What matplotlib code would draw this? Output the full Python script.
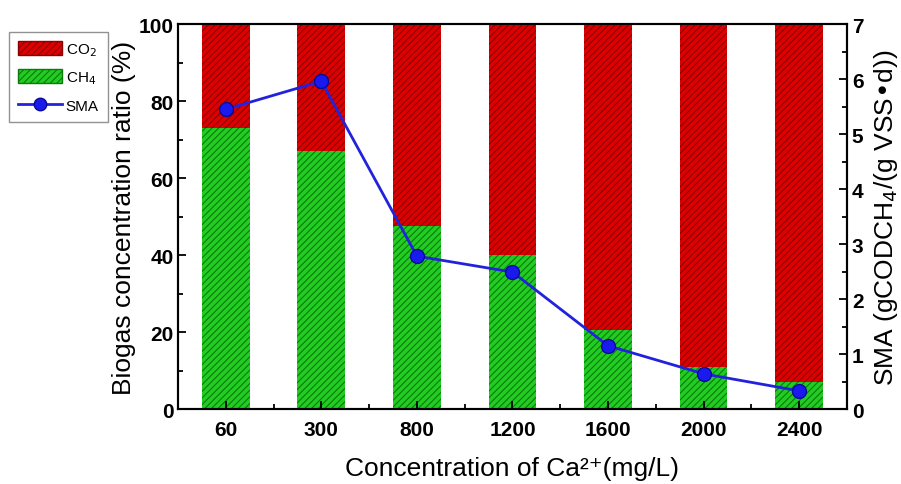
import numpy as np
import matplotlib.pyplot as plt
from matplotlib.patches import Patch
from matplotlib.lines import Line2D
from matplotlib.ticker import MultipleLocator

plt.rcParams['font.family'] = ['Liberation Sans', 'DejaVu Sans']
plt.rcParams['hatch.linewidth'] = 0.8

conc = ["60", "300", "800", "1200", "1600", "2000", "2400"]
ch4 = [73, 67, 47.5, 40, 20.5, 11, 7]
co2 = [100 - v for v in ch4]
sma = [5.45, 5.96, 2.78, 2.49, 1.15, 0.64, 0.33]

x = np.arange(len(conc))

fig = plt.figure(figsize=(9.01, 4.85), dpi=100)
ax = fig.add_axes([0.1976, 0.1546, 0.7424, 0.7938])

ax.bar(x, ch4, width=0.5, color="#22cc22", edgecolor="#0a7a0a", hatch="/////", linewidth=0)
ax.bar(x, co2, width=0.5, bottom=ch4, color="#dd0000", edgecolor="#8a0000", hatch="/////", linewidth=0)

ax.set_xlim(-0.5, 6.5)
ax.set_ylim(0, 100)
ax.set_xticks(x)
ax.set_xticklabels(conc, fontweight="bold", fontsize=15)
ax.xaxis.set_minor_locator(MultipleLocator(0.5))
ax.yaxis.set_major_locator(MultipleLocator(20))
ax.yaxis.set_minor_locator(MultipleLocator(10))
for lbl in ax.get_yticklabels():
    lbl.set_fontweight("bold")
    lbl.set_fontsize(15)
ax.tick_params(which="both", direction="in", top=False, right=False, width=1.3)
ax.tick_params(which="major", length=6)
ax.tick_params(which="minor", length=3.5)
ax.tick_params(axis="x", pad=8)
ax.tick_params(axis="y", pad=3)
for s in ax.spines.values():
    s.set_linewidth(1.5)
ax.set_ylabel("Biogas concentration ratio (%)", fontsize=19, labelpad=2)
ax.set_xlabel("Concentration of Ca\u00b2\u207a(mg/L)", fontsize=19, labelpad=12)

ax2 = ax.twinx()
ax2.plot(x, sma, color="#2222dd", lw=2, marker="o", ms=10,
         markerfacecolor="#1a1aee", markeredgecolor="#0a0a99")
ax2.set_ylim(0, 7)
ax2.yaxis.set_major_locator(MultipleLocator(1))
ax2.yaxis.set_minor_locator(MultipleLocator(0.5))
for lbl in ax2.get_yticklabels():
    lbl.set_fontweight("bold")
    lbl.set_fontsize(15)
ax2.tick_params(which="both", direction="in", width=1.3)
ax2.tick_params(which="major", length=6)
ax2.tick_params(which="minor", length=3.5)
ax2.set_ylabel("SMA (gCODCH$_4$/(g VSS\u2022d))", fontsize=19, labelpad=6)
for s in ax2.spines.values():
    s.set_linewidth(1.5)

handles = [
    Patch(facecolor="#dd0000", edgecolor="#8a0000", hatch="/////", label="CO$_2$"),
    Patch(facecolor="#22cc22", edgecolor="#0a7a0a", hatch="/////", label="CH$_4$"),
    Line2D([0], [0], color="#2222dd", lw=2, marker="o", ms=9,
           markerfacecolor="#1a1aee", markeredgecolor="#0a0a99", label="SMA"),
]
fig.legend(handles=handles, loc="upper left", bbox_to_anchor=(9 / 901, 1 - 33 / 485),
           fontsize=11, frameon=True, fancybox=False, edgecolor="#777777",
           handlelength=2.9, handleheight=1.0, handletextpad=0.2,
           borderpad=0.6, borderaxespad=0, labelspacing=0.75)

fig.savefig("out.png", dpi=100)
